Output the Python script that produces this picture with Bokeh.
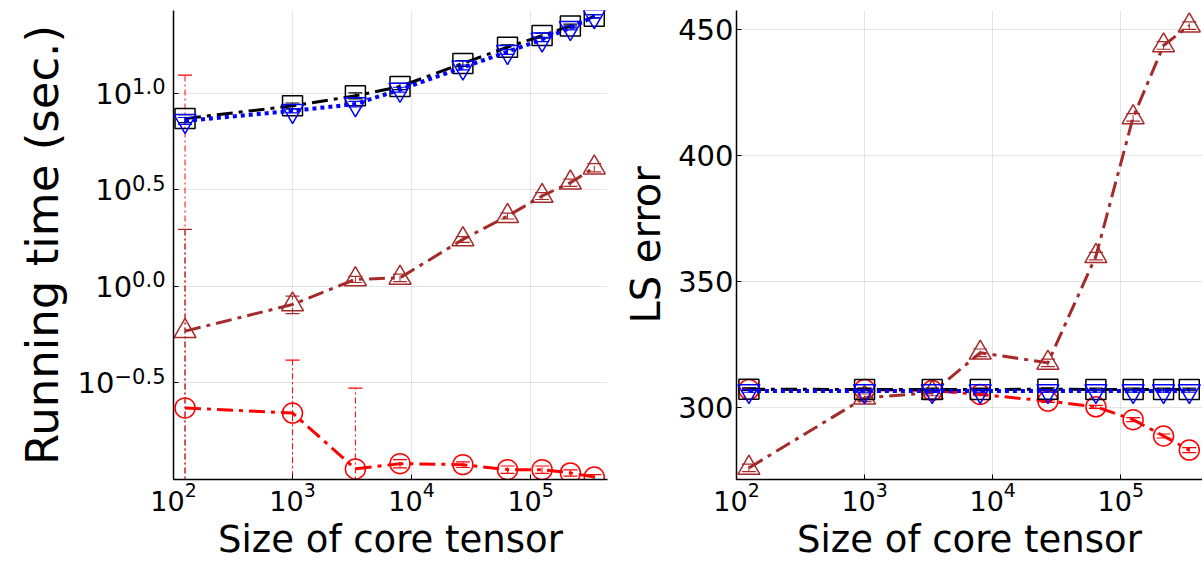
import math
from bokeh.plotting import figure
from bokeh.layouts import row
from bokeh.models import FixedTicker, Range1d, CustomJSTickFormatter
from bokeh.core.properties import value
from bokeh.embed import file_html
from bokeh.resources import INLINE

# ---------------- data ----------------
core_size = [125, 1000, 3375, 8000, 27000, 64000, 125000, 216000, 343000]

# running time (sec.)
time_black = [7.41, 8.63, 9.73, 10.87, 14.32, 17.38, 19.95, 22.39, 25.12]
time_blue = [7.21, 8.13, 8.81, 10.47, 13.65, 16.44, 19.05, 21.88, 25.12]
time_brown = [0.587, 0.807, 1.089, 1.109, 1.754, 2.317, 2.944, 3.451, 4.130]
time_red = [0.235, 0.221, 0.1135, 0.1208, 0.1194, 0.1125, 0.1125, 0.1081, 0.1030]

time_black_sd = [0.35, 0.30, 0.35, 0.40, 0.50, 0.50, 0.60, 0.50, 0.50]
time_blue_sd = [0.30, 0.20, 0.30, 0.30, 0.40, 0.50, 0.50, 0.50, 0.50]
time_brown_sd = [1.39, 0.084, 0.04, 0.05, 0.06, 0.08, 0.12, 0.15, 0.20]
time_red_sd = [12.2, 0.194, 0.184, 0.006, 0.004, 0.005, 0.005, 0.004, 0.003]

# LS error
err_black = [307.1, 307.0, 307.0, 307.0, 307.1, 307.0, 307.0, 307.0, 307.0]
err_blue = [306.4, 306.4, 306.4, 306.4, 306.4, 306.4, 306.4, 306.4, 306.4]
err_red = [307.0, 307.0, 306.6, 305.0, 302.4, 300.1, 295.0, 288.5, 282.9]
err_brown = [275.8, 303.7, 305.7, 321.6, 317.6, 360.0, 415.2, 443.8, 451.7]

err_black_sd = [0.5, 0.5, 0.5, 0.5, 0.5, 0.5, 0.5, 0.5, 0.5]
err_blue_sd = [0.5, 0.5, 0.5, 0.5, 0.5, 0.5, 0.5, 0.5, 0.5]
err_red_sd = [0.4, 0.4, 0.4, 0.5, 0.5, 0.6, 0.8, 0.8, 1.0]
err_brown_sd = [1.5, 1.5, 1.2, 1.5, 1.5, 1.5, 1.5, 1.5, 1.5]

x_ticks = [1e2, 1e3, 1e4, 1e5]
time_tick_exponents = [-0.5, 0.0, 0.5, 1.0]
time_tick_exp_text = ["\u22120.5", "0.0", "0.5", "1.0"]
err_ticks = [300, 350, 400, 450]

FONT = "DejaVu Sans"
BLACK, BLUE, BROWN, RED = "#000000", "#0000ff", "#a52a2a", "#ff0000"
DASHDOT = "16 6 4 6"
FRAME_H = 469
TOP = 10
OVERLAP = 32
TIME_RANGE = (0.1, 10 ** 1.43)


def style(p):
    p.outline_line_color = None
    for ax in (p.xaxis, p.yaxis):
        ax.axis_line_width = 1.5
        ax.axis_line_color = "black"
        ax.major_tick_in = 5
        ax.major_tick_out = 0
        ax.minor_tick_line_color = None
        ax.major_label_text_font = FONT
        ax.major_label_text_font_size = "27px"
        ax.major_label_text_color = "black"
        ax.axis_label_text_font = FONT
        ax.axis_label_text_font_size = "37px"
        ax.axis_label_text_font_style = "normal"
        ax.axis_label_text_color = "black"
    p.grid.grid_line_color = "black"
    p.grid.grid_line_alpha = 0.1
    p.grid.grid_line_width = 1
    p.xaxis.axis_label = "Size of core tensor"
    p.xaxis.axis_label_standoff = 4
    p.xaxis.major_label_standoff = 2


def errbars(p, x, y, sd, color, clip_low):
    lo = [max(v - e, clip_low) for v, e in zip(y, sd)]
    hi = [v + e for v, e in zip(y, sd)]
    p.segment(x0=x, y0=lo, x1=x, y1=hi, line_color=color, line_width=1, line_dash="6 3 2 3")
    p.scatter(x=x, y=lo, marker="dash", size=14, line_color=color, line_width=1.2)
    p.scatter(x=x, y=hi, marker="dash", size=14, line_color=color, line_width=1.2)


def series(p, x, y, sd, color, dash, width, marker, msize, clip_low):
    errbars(p, x, y, sd, color, clip_low)
    p.line(x, y, line_color=color, line_width=width, line_dash=dash)
    p.scatter(x, y, marker=marker, size=msize, line_color=color, line_width=1.5,
              fill_alpha=0)


# ---------------- left: running time ----------------
p1 = figure(frame_width=434, frame_height=FRAME_H, x_axis_type="log", y_axis_type="log",
            x_range=Range1d(100, 4.43e5), y_range=Range1d(*TIME_RANGE),
            output_backend="svg", toolbar_location=None,
            min_border_left=OVERLAP, min_border_right=13, min_border_top=TOP, min_border_bottom=0,
            margin=(0, 0, 0, -OVERLAP))
p1.background_fill_alpha = 0
p1.border_fill_alpha = 0
style(p1)
p1.xaxis.ticker = FixedTicker(ticks=x_ticks)
time_ticks = [10 ** e for e in time_tick_exponents]
p1.yaxis.ticker = FixedTicker(ticks=time_ticks)
p1.yaxis.formatter = CustomJSTickFormatter(code="return ''")
p1.yaxis.major_label_standoff = 0

series(p1, core_size, time_red, time_red_sd, RED, DASHDOT, 3, "circle", 20, 1e-3)
series(p1, core_size, time_brown, time_brown_sd, BROWN, DASHDOT, 3, "triangle", 22, 1e-3)
series(p1, core_size, time_black, time_black_sd, BLACK, DASHDOT, 3, "square", 20, 1e-3)
series(p1, core_size, time_blue, time_blue_sd, BLUE, "4 4", 4, "inverted_triangle", 22, 1e-3)

# ---------------- left margin: y title and 10^{e} tick labels ----------------
p0 = figure(frame_width=173, frame_height=FRAME_H, x_range=Range1d(0, 173),
            y_range=p1.y_range, y_axis_type="log",
            x_axis_location=None, y_axis_location=None,
            output_backend="svg", toolbar_location=None,
            min_border_left=0, min_border_right=0, min_border_top=TOP, min_border_bottom=0)
p0.outline_line_color = None
p0.grid.visible = False

exp_w = [sum(0.838 if c == "\u2212" else (0.318 if c == "." else 0.636) for c in t) * 21
         for t in time_tick_exp_text]
p0.text(x=[165] * len(time_ticks), y=time_ticks, text=time_tick_exp_text,
        text_align="right", text_baseline="middle", y_offset=-7,
        text_font=value(FONT), text_font_size="21px", text_color="black")
p0.text(x=[165 - w for w in exp_w], y=time_ticks, text=["10"] * len(time_ticks),
        text_align="right", text_baseline="middle",
        text_font=value(FONT), text_font_size="29px", text_color="black")
p0.text(x=[42], y=[math.sqrt(TIME_RANGE[0] * TIME_RANGE[1])], text=["Running time (sec.)"],
        angle=math.pi / 2, text_align="center", text_baseline="middle",
        text_font=value(FONT), text_font_size="45px", text_color="black")

# ---------------- right: LS error ----------------
p2 = figure(frame_width=466, frame_height=FRAME_H, x_axis_type="log",
            x_range=Range1d(100, 4.35e5), y_range=Range1d(271.2, 457.7),
            output_backend="svg", toolbar_location=None,
            min_border_left=115, min_border_right=0, min_border_top=TOP, min_border_bottom=0)
style(p2)
p2.xaxis.ticker = FixedTicker(ticks=x_ticks)
p2.yaxis.ticker = FixedTicker(ticks=err_ticks)
p2.yaxis.axis_label = "LS error"
p2.yaxis.axis_label_text_font_size = "40px"
p2.yaxis.axis_label_standoff = 6
p2.yaxis.major_label_standoff = 3
p2.yaxis.major_label_text_font_size = "29px"

series(p2, core_size, err_red, err_red_sd, RED, DASHDOT, 3, "circle", 20, 0)
series(p2, core_size, err_brown, err_brown_sd, BROWN, DASHDOT, 3, "triangle", 22, 0)
series(p2, core_size, err_black, err_black_sd, BLACK, DASHDOT, 3, "square", 20, 0)
series(p2, core_size, err_blue, err_blue_sd, BLUE, "4 4", 4, "inverted_triangle", 22, 0)

layout = row(p0, p1, p2)
open("out.html", "w").write(file_html(layout, INLINE))
